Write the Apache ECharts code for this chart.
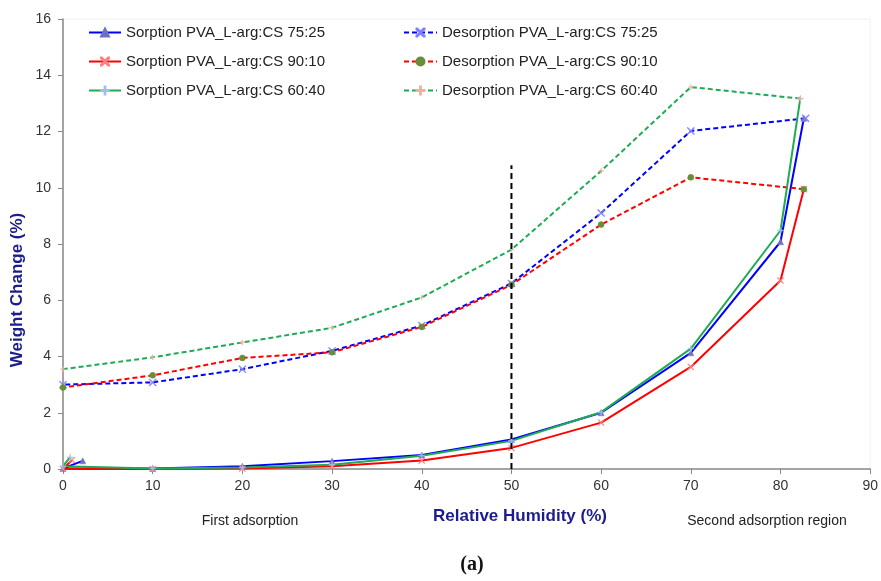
<!DOCTYPE html>
<html><head><meta charset="utf-8">
<script src="https://cdn.jsdelivr.net/npm/echarts@6/dist/echarts.min.js"></script>
<style>html,body{margin:0;padding:0;background:#fff}#c{width:881px;height:581px}</style>
</head><body><div id="c"></div>
<script>
// Sorption x values (first point is the small initial excursion)
const sorptionX = [2.2, 0, 10, 20, 30, 40, 50, 60, 70, 80, 82.6];
const sorp7525 = [0.29, 0.02, 0.02, 0.10, 0.28, 0.50, 1.05, 2.00, 4.13, 8.08, 12.47];
const sorp9010X = [1.0, 0, 10, 20, 30, 40, 50, 60, 70, 80, 82.6];
const sorp9010 = [0.32, 0.0, 0.0, 0.02, 0.10, 0.30, 0.75, 1.65, 3.63, 6.70, 9.95];
const sorp6040X = [0.8, 0, 10, 20, 30, 40, 50, 60, 70, 80, 82.2];
const sorp6040 = [0.42, 0.10, 0.02, 0.05, 0.15, 0.47, 1.00, 2.02, 4.28, 8.48, 13.17];
const desX7525 = [82.8, 70, 60, 50, 40, 30, 20, 10, 0];
const des7525 = [12.47, 12.02, 9.10, 6.60, 5.10, 4.20, 3.55, 3.08, 3.00];
const desX9010 = [82.6, 70, 60, 50, 40, 30, 20, 10, 0];
const des9010 = [9.95, 10.37, 8.69, 6.55, 5.05, 4.15, 3.95, 3.33, 2.90];
const desX6040 = [82.2, 70, 60, 50, 40, 30, 20, 10, 0];
const des6040 = [13.17, 13.58, 10.60, 7.80, 6.10, 5.02, 4.50, 3.97, 3.55];
const dividerX = [50, 50];
const dividerY = [0, 10.8];
const names = ['Sorption PVA_L-arg:CS 75:25','Desorption PVA_L-arg:CS 75:25','Sorption PVA_L-arg:CS 90:10','Desorption PVA_L-arg:CS 90:10','Sorption PVA_L-arg:CS 60:40','Desorption PVA_L-arg:CS 60:40'];

const zip = (xs, ys) => xs.map((x, i) => [x, ys[i]]);
const xMark = 'path://M0,0L1,0L10,9L10,10L9,10L0,1ZM9,0L10,0L10,1L1,10L0,10L0,9Z';
const star = 'path://M4.5,0H5.5V4.5H10V5.5H5.5V10H4.5V5.5H0V4.5H4.5Z';

function line(name, data, color, dashed, symbol, symColor, size) {
  return {
    name, type: 'line', data, showSymbol: true, symbol, symbolSize: size,
    lineStyle: { color, width: 2, type: dashed ? [5, 3] : 'solid' },
    itemStyle: { color: symColor, borderColor: symColor, borderWidth: 0.5 },
    color, animation: false, z: 3
  };
}

const chart = echarts.init(document.getElementById('c'));
const axisLabelStyle = { color: '#333', fontSize: 14, fontFamily: 'Liberation Sans, Arial' };
const legendText = { fontSize: 15, color: '#222', fontFamily: 'Liberation Sans, Arial' };
chart.setOption({
  animation: false,
  grid: { left: 63, right: 9, top: 19, bottom: 112, show: true, borderColor: '#f2f2f2', borderWidth: 1 },
  xAxis: {
    type: 'value', min: 0, max: 90, interval: 10,
    axisLine: { show: true, lineStyle: { color: '#888', width: 1.5 } },
    axisTick: { show: true, length: 5, lineStyle: { color: '#888' } },
    splitLine: { show: false },
    axisLabel: Object.assign({ margin: 10 }, axisLabelStyle)
  },
  yAxis: {
    type: 'value', min: 0, max: 16, interval: 2,
    axisLine: { show: true, lineStyle: { color: '#888', width: 1.5 } },
    axisTick: { show: true, length: 5, lineStyle: { color: '#888' } },
    splitLine: { show: false },
    axisLabel: Object.assign({ margin: 12 }, axisLabelStyle)
  },
  legend: [
    { data: [names[0], names[2], names[4]], orient: 'vertical', left: 88, top: 25, padding: 0, itemWidth: 32, itemHeight: 10, itemGap: 14, textStyle: legendText },
    { data: [names[1], names[3], names[5]], orient: 'vertical', left: 403, top: 25, padding: 0, itemWidth: 33, itemHeight: 10, itemGap: 14, textStyle: legendText }
  ],
  graphic: [
    { type: 'text', x: 17, y: 290, rotation: Math.PI / 2, style: { text: 'Weight Change (%)', fill: '#1c1c8c', font: 'bold 17px Liberation Sans, Arial', align: 'center', verticalAlign: 'middle' } },
    { type: 'text', x: 520, y: 516, style: { text: 'Relative Humidity (%)', fill: '#1c1c8c', font: 'bold 17px Liberation Sans, Arial', align: 'center', verticalAlign: 'middle' } },
    { type: 'text', x: 250, y: 521, style: { text: 'First adsorption', fill: '#222', font: '14px Liberation Sans, Arial', align: 'center', verticalAlign: 'middle' } },
    { type: 'text', x: 767, y: 521, style: { text: 'Second adsorption region', fill: '#222', font: '14px Liberation Sans, Arial', align: 'center', verticalAlign: 'middle' } },
    { type: 'text', x: 472, y: 565, style: { text: '(a)', fill: '#111', font: 'bold 20px Liberation Serif, serif', align: 'center', verticalAlign: 'middle' } }
  ],
  series: [
    line(names[0], zip(sorptionX, sorp7525), '#0000ff', false, 'triangle', '#7070c0', 6),
    line(names[1], zip(desX7525, des7525), '#0000ff', true, xMark, '#8080ff', 7),
    line(names[2], zip(sorp9010X, sorp9010), '#ff0000', false, xMark, '#ff8080', 6),
    line(names[3], zip(desX9010, des9010), '#ff0000', true, 'circle', '#6b8c3a', 6),
    line(names[4], zip(sorp6040X, sorp6040), '#1faa55', false, star, '#a0c0e8', 6),
    line(names[5], zip(desX6040, des6040), '#1faa55', true, star, '#f0b0a0', 5),
    { type: 'line', data: zip(dividerX, dividerY), symbol: 'none', lineStyle: { color: '#000', width: 2, type: [6, 4] }, z: 5, silent: true }
  ]
});
</script></body></html>
